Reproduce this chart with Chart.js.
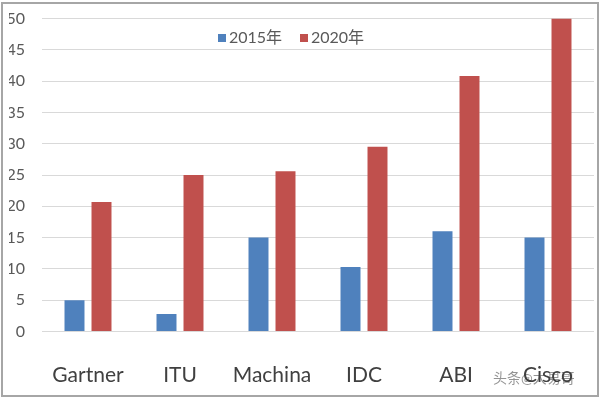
<!DOCTYPE html>
<html>
<head>
<meta charset="utf-8">
<script src="https://cdn.jsdelivr.net/npm/chart.js@4"></script>
<style>
  body { margin: 0; background: #fff; }
  #wrap { position: relative; width: 600px; height: 399px; }
  #frame { position: absolute; left: 1px; top: 2px; width: 594px; height: 391px;
           border: 2px solid #a6a6a6; pointer-events: none; }
</style>
</head>
<body>
<div id="wrap">
  <canvas id="barChart" width="600" height="399"></canvas>
  <div id="frame"></div>
</div>
<script>
const categories = ['Gartner', 'ITU', 'Machina', 'IDC', 'ABI', 'Cisco'];
const seriesNames = ['2015年', '2020年'];
const values2015 = [5, 2.8, 15, 10.3, 16, 15];
const values2020 = [20.7, 25, 25.6, 29.5, 40.8, 50];
const watermark = '头条@大易哥';

const FONT = 'Lato, "Noto Sans CJK SC", sans-serif';

// legend drawn inside the plot, like the Excel original
const innerLegend = {
  id: 'innerLegend',
  afterDraw(chart) {
    const ctx = chart.ctx;
    ctx.save();
    ctx.font = '16px ' + FONT;
    ctx.textBaseline = 'middle';
    let x = 218;
    const y = 38;
    chart.data.datasets.forEach(ds => {
      ctx.fillStyle = ds.backgroundColor;
      ctx.fillRect(x, y - 4, 8, 8);
      ctx.fillStyle = '#595959';
      ctx.fillText(ds.label, x + 11, y);
      x += 82;
    });
    // watermark
    ctx.font = '14px ' + FONT;
    ctx.fillStyle = 'rgba(60,60,60,0.55)';
    ctx.fillText(watermark, 493, 378);
    ctx.restore();
  }
};

new Chart(document.getElementById('barChart').getContext('2d'), {
  type: 'bar',
  data: {
    labels: categories,
    datasets: [
      { label: seriesNames[0], data: values2015, backgroundColor: '#4F81BD' },
      { label: seriesNames[1], data: values2020, backgroundColor: '#C0504D' }
    ]
  },
  options: {
    responsive: false,
    animation: false,
    layout: { padding: { top: 18.5, left: 9, right: 6, bottom: 0 } },
    datasets: {
      bar: { categoryPercentage: 0.587, barPercentage: 0.74 }
    },
    plugins: {
      legend: { display: false },
      tooltip: { enabled: false }
    },
    scales: {
      x: {
        grid: { display: false, drawTicks: false },
        border: { display: false },
        ticks: { color: '#404040', font: { family: FONT, size: 21 }, padding: 31,
                 maxRotation: 0, minRotation: 0, autoSkip: false },
        afterFit(scale) {
          scale.height = 67.5;
          scale.paddingLeft = 0;
          scale.paddingRight = 0;
        }
      },
      y: {
        min: 0,
        max: 50,
        border: { display: false },
        grid: { color: '#d9d9d9', drawTicks: false },
        ticks: { stepSize: 5, color: '#595959', font: { family: FONT, size: 16 }, padding: 17 },
        afterFit(scale) {
          scale.width = 33;
          scale.paddingTop = 0;
          scale.paddingBottom = 0;
        }
      }
    }
  },
  plugins: [innerLegend]
});
</script>
</body>
</html>
